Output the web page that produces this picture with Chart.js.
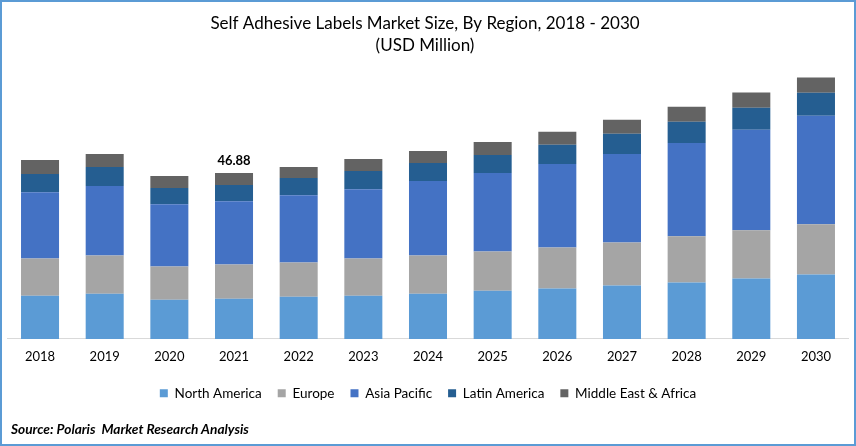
<!DOCTYPE html>
<html>
<head>
<meta charset="utf-8">
<title>Self Adhesive Labels Market Size</title>
<script src="https://cdn.jsdelivr.net/npm/chart.js@4/dist/chart.umd.min.js"></script>
<style>
  html, body { margin: 0; padding: 0; background: #fff; }
  #wrap { position: relative; width: 856px; height: 446px; overflow: hidden; }
  #wrap canvas { position: absolute; left: 0; top: 0; }
  #frame { position: absolute; inset: 0; border: 2px solid #5B9BD5; pointer-events: none; }
  #source { position: absolute; left: 11px; top: 420px; font: italic bold 13.7px Lato, sans-serif; color: #000; }
</style>
</head>
<body>
<div id="wrap">
  <canvas id="chart" width="856" height="446"></canvas>
  <div id="frame"></div>
  <div id="source">Source: Polaris&nbsp; Market Research Analysis</div>
</div>
<script>
const years = ["2018", "2019", "2020", "2021", "2022", "2023", "2024", "2025", "2026", "2027", "2028", "2029", "2030"];
const northAmerica = [12.22, 12.79, 11.08, 11.36, 11.93, 12.22, 12.79, 13.64, 14.21, 15.06, 15.91, 17.05, 18.18];
const europe = [10.51, 10.80, 9.38, 9.66, 9.66, 10.51, 10.80, 11.08, 11.65, 12.22, 13.07, 13.64, 14.21];
const asiaPacific = [18.75, 19.60, 17.62, 17.90, 19.04, 19.60, 21.02, 22.16, 23.58, 25.00, 26.42, 28.41, 30.68];
const latinAmerica = [5.11, 5.40, 4.55, 4.55, 4.83, 5.11, 5.11, 5.11, 5.40, 5.68, 5.97, 6.25, 6.53];
const middleEastAfrica = [3.98, 3.69, 3.41, 3.41, 3.13, 3.41, 3.41, 3.69, 3.69, 3.98, 4.26, 4.26, 4.26];
const labelledYear = "2021";
const labelledText = "46.88";
const FONT = "Lato, sans-serif";

function barSet(label, data, color) {
    return { label, data, backgroundColor: color, stack: "total", barPercentage: 0.588, categoryPercentage: 1 };
}

// nudges title and legend into place and writes the one value label above its bar
const extras = {
    id: "extras",
    afterLayout(chart) {
        chart.titleBlock.left -= 3;
        chart.titleBlock.right -= 3;
        chart.legend.top += 4;
    },
    afterDatasetsDraw(chart) {
        const idx = years.indexOf(labelledYear);
        const last = chart.data.datasets.length - 1;
        const bar = chart.getDatasetMeta(last).data[idx];
        const ctx = chart.ctx;
        ctx.save();
        ctx.font = "bold 13px " + FONT;
        ctx.fillStyle = "#000";
        ctx.textAlign = "center";
        ctx.textBaseline = "bottom";
        ctx.fillText(labelledText, bar.x, bar.y - 6);
        ctx.restore();
    },
};

new Chart(document.getElementById("chart"), {
    type: "bar",
    data: {
        labels: years,
        datasets: [
            barSet("North America", northAmerica, "#5B9BD5"),
            barSet("Europe", europe, "#A5A5A5"),
            barSet("Asia Pacific", asiaPacific, "#4472C4"),
            barSet("Latin America", latinAmerica, "#255E91"),
            barSet("Middle East & Africa", middleEastAfrica, "#636363"),
        ],
    },
    options: {
        responsive: false,
        animation: false,
        layout: { padding: { left: 7.7, right: 7.7, top: 13, bottom: 40 } },
        plugins: {
            title: {
                display: true,
                text: ["Self Adhesive Labels Market Size, By Region, 2018 - 2030", "(USD Million)"],
                color: "#000",
                font: { family: FONT, size: 17, weight: "normal", lineHeight: 1.26 },
                padding: { top: 0, bottom: 0 },
            },
            legend: {
                position: "bottom",
                labels: {
                    boxWidth: 8,
                    boxHeight: 8,
                    padding: 16,
                    color: "#000",
                    font: { family: FONT, size: 13.5 },
                },
            },
            tooltip: { enabled: false },
        },
        scales: {
            x: {
                stacked: true,
                grid: { display: false },
                border: { color: "#D9D9D9", width: 1 },
                ticks: { color: "#000", padding: 2, font: { family: FONT, size: 13 } },
            },
            y: { stacked: true, display: false, min: 0, max: 80 },
        },
    },
    plugins: [extras],
});
</script>
</body>
</html>
